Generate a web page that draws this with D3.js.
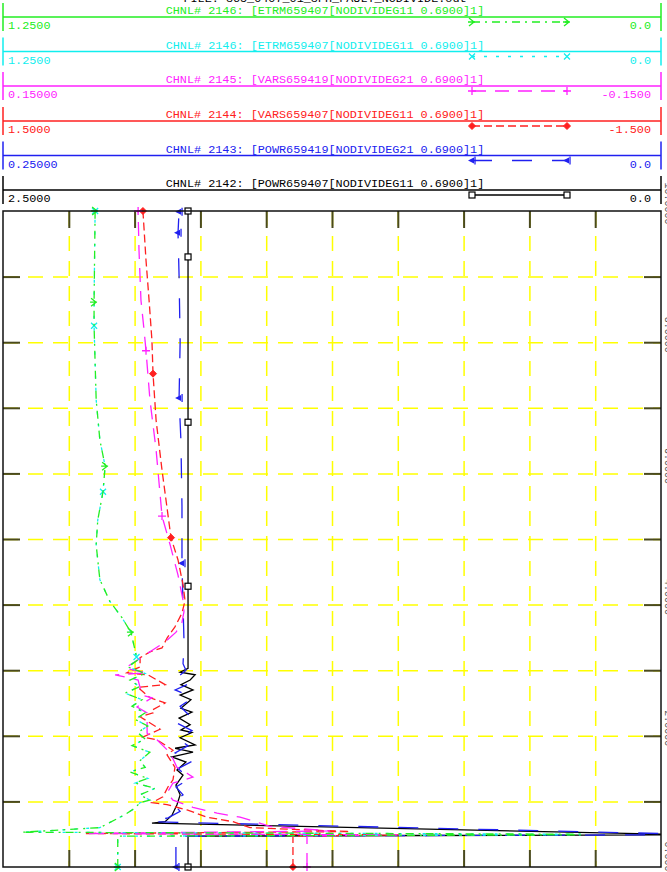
<!DOCTYPE html>
<html>
<head>
<meta charset="utf-8">
<script src="https://cdn.jsdelivr.net/npm/d3@7"></script>
<style>
body{margin:0;background:#fff;overflow:hidden}
text{font-family:"Liberation Mono","DejaVu Sans Mono",monospace}
</style>
</head>
<body>
<script>
// channel legend rows, top to bottom
var chTitles = ["CHNL# 2146: [ETRM659407[NODIVIDEG11 0.6900]1]",
                "CHNL# 2146: [ETRM659407[NODIVIDEG11 0.6900]1]",
                "CHNL# 2145: [VARS659419[NODIVIDEG21 0.6900]1]",
                "CHNL# 2144: [VARS659407[NODIVIDEG11 0.6900]1]",
                "CHNL# 2143: [POWR659419[NODIVIDEG21 0.6900]1]",
                "CHNL# 2142: [POWR659407[NODIVIDEG11 0.6900]1]"];
var chLeft  = [1.25, 1.25, 0.15, 1.5, 0.25, 2.5];
var chRight = [0.0, 0.0, -0.15, -1.5, 0.0, 0.0];
var chLeftLbl  = ["1.2500", "1.2500", "0.15000", "1.5000", "0.25000", "2.5000"];
var chRightLbl = ["0.0", "0.0", "-0.1500", "-1.500", "0.0", "0.0"];
var fileTitle = "FILE: 365_0407_01_3PH_FAULT_NODIVIDE.out";

// time axis (seconds), labels every 2 s
var timeTicks = [0, 2, 4, 6, 8, 10];

// ETRM659407 (same channel drawn twice)
var etrmT = [0, 0.47, 0.49, 0.50, 0.53, 0.60, 0.72, 0.80, 0.90, 0.98, 1.02, 1.10, 1.20, 1.28, 1.35, 1.45, 1.52, 1.62, 1.75, 1.85, 1.95, 2.05, 2.15, 2.25, 2.35, 2.45, 2.55, 2.65, 2.75, 2.85, 2.95, 3.05, 3.15, 3.30, 3.58, 3.80, 4.05, 4.38, 4.91, 5.29, 5.72, 6.11, 6.51, 7.12, 8.25, 8.61, 10];
var etrmV = [1.032, 1.032, 0.154, 0.154, 1.214, 1.066, 1.037, 1.018, 0.999, 0.990, 0.971, 0.990, 0.961, 0.999, 0.975, 1.009, 0.980, 0.990, 0.971, 1.005, 0.980, 0.994, 0.975, 0.999, 0.980, 1.005, 0.986, 1.018, 0.990, 1.009, 0.980, 1.013, 0.995, 0.999, 1.007, 1.024, 1.047, 1.066, 1.073, 1.070, 1.060, 1.056, 1.066, 1.073, 1.077, 1.077, 1.075];
var etrmMarkG = [0, 3.58, 6.11, 8.61, 10];
var etrmMarkC = [0, 3.20, 5.72, 8.25, 10];

// VARS659419
var vars19T = [0, 0.47, 0.49, 0.51, 0.55, 0.62, 0.76, 0.82, 0.91, 1.02, 1.13, 1.28, 1.33, 1.37, 1.43, 1.52, 1.74, 1.94, 2.04, 2.35, 2.44, 2.58, 2.62, 2.85, 2.93, 2.96, 3.03, 3.13, 3.28, 3.43, 3.58, 3.73, 3.89, 4.06, 4.45, 4.91, 5.35, 6.36, 7.12, 7.87, 8.19, 8.64, 9.41, 10];
var vars19V = [0.0114, 0.0114, -0.0297, 0.1126, 0.0009, 0.0282, 0.0419, 0.0524, 0.0634, 0.0725, 0.0752, 0.0725, 0.0670, 0.0634, 0.0661, 0.0707, 0.0738, 0.0798, 0.0843, 0.0843, 0.0889, 0.0821, 0.0866, 0.0884, 0.0989, 0.0843, 0.0944, 0.0898, 0.0830, 0.0761, 0.0711, 0.0684, 0.0675, 0.0679, 0.0702, 0.0738, 0.0775, 0.0802, 0.0830, 0.0848, 0.0857, 0.0871, 0.0880, 0.0884];
var vars19Mark = [0, 5.35, 7.87, 10];

// VARS659407
var vars07T = [0, 0.47, 0.49, 0.51, 0.54, 0.60, 0.69, 0.76, 0.87, 0.95, 0.98, 1.07, 1.22, 1.33, 1.52, 1.71, 1.78, 1.94, 1.98, 2.10, 2.29, 2.35, 2.39, 2.50, 2.58, 2.74, 2.78, 2.93, 2.96, 3.00, 3.05, 3.19, 3.28, 3.34, 3.49, 3.66, 3.87, 4.06, 4.30, 4.68, 5.02, 6.05, 6.81, 7.52, 8.03, 8.64, 9.25, 10];
var vars07V = [0.178, 0.178, -0.310, 1.126, -0.082, 0.374, 0.451, 0.570, 0.661, 0.752, 0.821, 0.771, 0.748, 0.725, 0.716, 0.752, 0.725, 0.798, 0.862, 0.784, 0.875, 0.816, 0.821, 0.761, 0.830, 0.885, 0.761, 0.839, 0.935, 0.912, 0.875, 0.875, 0.830, 0.775, 0.752, 0.716, 0.684, 0.670, 0.679, 0.702, 0.734, 0.775, 0.802, 0.816, 0.821, 0.834, 0.848, 0.862];
var vars07Mark = [0, 5.02, 7.52, 10];

// POWR659419
var powr19T = [0, 0.47, 0.49, 0.51, 0.69, 0.75, 0.85, 0.98, 1.10, 1.22, 1.35, 1.50, 1.62, 1.74, 1.85, 1.95, 2.08, 2.20, 2.30, 2.45, 2.58, 2.70, 2.80, 2.90, 3.00, 3.10, 3.40, 4.0, 4.63, 5.5, 6.5, 7.15, 8.0, 9.0, 9.67, 10];
var powr19V = [0.1843, 0.1843, 0.0, 0.0, 0.1934, 0.1873, 0.1827, 0.1858, 0.1816, 0.1843, 0.1789, 0.1835, 0.1778, 0.1846, 0.1797, 0.1835, 0.1782, 0.1843, 0.1789, 0.1827, 0.1778, 0.1846, 0.1789, 0.1835, 0.1805, 0.1816, 0.1812, 0.1816, 0.1820, 0.1820, 0.1824, 0.1831, 0.1827, 0.1831, 0.1835, 0.1831];
var powr19Mark = [0, 4.63, 7.15, 9.67, 9.99];

// POWR659407
var powr07T = [0, 0.47, 0.49, 0.50, 0.67, 0.69, 0.79, 0.95, 1.10, 1.25, 1.40, 1.48, 1.60, 1.68, 1.75, 1.81, 1.86, 1.97, 2.05, 2.09, 2.17, 2.27, 2.36, 2.42, 2.55, 2.62, 2.70, 2.78, 2.85, 2.93, 2.97, 3.03, 3.50, 10];
var powr07V = [1.797, 1.797, 0.0, 0.0, 1.934, 1.884, 1.858, 1.839, 1.827, 1.843, 1.816, 1.839, 1.805, 1.858, 1.778, 1.846, 1.770, 1.827, 1.782, 1.824, 1.789, 1.831, 1.782, 1.824, 1.786, 1.827, 1.778, 1.824, 1.789, 1.770, 1.827, 1.797, 1.797, 1.797];
var powr07Mark = [0, 4.28, 6.78, 9.30, 10];

var colors = ["#22ee22", "#11eeee", "#ff22ff", "#ff2020", "#2020f0", "#000000"];
var dashes = ["8,5,2,5", "3,9", "14,9", "8,4", "20,20", null];
var marks  = ["chev", "cross", "plus", "diamond", "tri", "square"];

var width = 667, height = 872;
var pL = 3, pR = 661, pT = 211, pB = 867;

var svg = d3.select("body").append("svg").attr("width", width).attr("height", height);

// title, mostly above the page
svg.append("text").attr("x", 325).attr("y", 2).attr("text-anchor", "middle")
  .attr("font-size", 11.8).attr("fill", "#000").text(fileTitle);

// legend rows
var rowY = [17, 51.5, 86, 121, 155.5, 190];
chTitles.forEach(function(t, i){
  var g = svg.append("g");
  var y = rowY[i], c = colors[i];
  g.append("line").attr("x1", pL).attr("x2", pR).attr("y1", y).attr("y2", y)
    .attr("stroke", c).attr("stroke-width", 1.5);
  g.append("line").attr("x1", pL).attr("x2", pL).attr("y1", y - 14).attr("y2", y + 14)
    .attr("stroke", c).attr("stroke-width", 1.5);
  g.append("line").attr("x1", pR).attr("x2", pR).attr("y1", y - 14).attr("y2", y + 14)
    .attr("stroke", c).attr("stroke-width", 1.5);
  g.append("text").attr("x", 325).attr("y", y - 3).attr("text-anchor", "middle")
    .attr("font-size", 11.8).attr("fill", c).text(t);
  g.append("text").attr("x", 8).attr("y", y + 12).attr("font-size", 11.8).attr("fill", c).text(chLeftLbl[i]);
  g.append("text").attr("x", 651).attr("y", y + 12).attr("text-anchor", "end")
    .attr("font-size", 11.8).attr("fill", c).text(chRightLbl[i]);
  g.append("line").attr("x1", 472).attr("x2", 567).attr("y1", y + 5).attr("y2", y + 5)
    .attr("stroke", c).attr("stroke-width", 1.3).attr("stroke-dasharray", dashes[i]);
  drawMark(g, marks[i], 472, y + 5, c);
  drawMark(g, marks[i], 567, y + 5, c);
});

function drawMark(g, type, x, y, c){
  if (type == "square") {
    g.append("rect").attr("x", x - 3).attr("y", y - 3).attr("width", 6).attr("height", 6)
      .attr("fill", "#fff").attr("stroke", c).attr("stroke-width", 1.2);
  } else if (type == "tri") {
    g.append("path").attr("d", "M" + (x - 4) + "," + y + "L" + (x + 2) + "," + (y - 3) + "L" + (x + 2) + "," + (y + 3) + "Z").attr("fill", c);
    g.append("path").attr("d", "M" + (x + 3) + "," + (y - 4) + "V" + (y + 4)).attr("stroke", c).attr("stroke-width", 1.3);
  } else if (type == "diamond") {
    g.append("path").attr("d", "M" + x + "," + (y - 3.5) + "L" + (x + 3.5) + "," + y + "L" + x + "," + (y + 3.5) + "L" + (x - 3.5) + "," + y + "Z")
      .attr("fill", c).attr("stroke", c);
  } else if (type == "plus") {
    g.append("path").attr("d", "M" + (x - 4) + "," + y + "H" + (x + 4) + "M" + x + "," + (y - 4) + "V" + (y + 4))
      .attr("stroke", c).attr("stroke-width", 1.3);
  } else if (type == "cross") {
    g.append("path").attr("d", "M" + (x - 3) + "," + (y - 3) + "L" + (x + 3) + "," + (y + 3) + "M" + (x - 3) + "," + (y + 3) + "L" + (x + 3) + "," + (y - 3))
      .attr("stroke", c).attr("stroke-width", 1.3);
  } else {
    g.append("path").attr("d", "M" + (x - 3) + "," + (y - 4) + "L" + (x + 2) + "," + y + "L" + (x - 3) + "," + (y + 4) + "M" + (x - 4) + "," + y + "H" + (x + 3))
      .attr("stroke", c).attr("stroke-width", 1.3).attr("fill", "none");
  }
}

// scales
var tScale = d3.scaleLinear().domain([0, 10]).range([pB, pT]);
var gridScale = d3.scaleLinear().domain([0, 10]).range([pL, pR]);

// yellow dashed grid
var gx = svg.append("g").attr("transform", "translate(0," + pT + ")")
  .call(d3.axisTop(gridScale).tickValues(d3.range(1, 10)).tickSize(-(pB - pT)).tickFormat(""));
var gy = svg.append("g").attr("transform", "translate(" + pL + ",0)")
  .call(d3.axisLeft(tScale).tickValues(d3.range(1, 10)).tickSize(-(pR - pL)).tickFormat(""));
[gx, gy].forEach(function(g){
  g.select(".domain").remove();
  g.selectAll("line").attr("stroke", "#ffff00").attr("stroke-width", 1.5).attr("stroke-dasharray", "15,10");
});

// short dark ticks on the frame
var tickCol = "#4a4a1e";
var tk = [
  svg.append("g").attr("transform", "translate(0," + pT + ")").call(d3.axisTop(gridScale).tickValues(d3.range(1, 10)).tickSize(-17).tickFormat("")),
  svg.append("g").attr("transform", "translate(0," + pB + ")").call(d3.axisBottom(gridScale).tickValues(d3.range(1, 10)).tickSize(-17).tickFormat("")),
  svg.append("g").attr("transform", "translate(" + pL + ",0)").call(d3.axisLeft(tScale).tickValues(d3.range(1, 10)).tickSize(-17).tickFormat("")),
  svg.append("g").attr("transform", "translate(" + pR + ",0)").call(d3.axisRight(tScale).tickValues(d3.range(1, 10)).tickSize(-17).tickFormat(""))
];
tk.forEach(function(g){
  g.select(".domain").remove();
  g.selectAll("line").attr("stroke", tickCol).attr("stroke-width", 2);
});

// time labels on the right edge, rotated and mostly off page
var tl = svg.append("g").attr("transform", "translate(" + pR + ",0)")
  .call(d3.axisRight(tScale).tickValues(timeTicks).tickSize(0).tickFormat(d3.format(".4f")));
tl.select(".domain").remove();
tl.selectAll("text").attr("x", -8).attr("y", -4).attr("dy", null)
  .attr("transform", "rotate(90)").attr("text-anchor", "middle")
  .attr("font-size", 10).attr("fill", "#555").attr("font-family", "Liberation Mono");

// series
svg.append("clipPath").attr("id", "plotclip").append("rect")
  .attr("x", pL).attr("y", pT).attr("width", pR - pL).attr("height", pB - pT);

var series = [
  {ch: 5, t: powr07T, v: powr07V, m: powr07Mark},
  {ch: 4, t: powr19T, v: powr19V, m: powr19Mark},
  {ch: 3, t: vars07T, v: vars07V, m: vars07Mark},
  {ch: 2, t: vars19T, v: vars19V, m: vars19Mark},
  {ch: 1, t: etrmT, v: etrmV, m: etrmMarkC},
  {ch: 0, t: etrmT, v: etrmV, m: etrmMarkG}
];

series.forEach(function(s){
  var i = s.ch;
  var xs = d3.scaleLinear().domain([chLeft[i], chRight[i]]).range([pL, pR]);
  var pts = s.t.map(function(t, k){ return {t: t, v: s.v[k]}; });
  var line = d3.line().x(function(d){ return xs(d.v); }).y(function(d){ return tScale(d.t); });
  svg.append("path").datum(pts).attr("d", line).attr("fill", "none")
    .attr("stroke", colors[i]).attr("stroke-width", 1.3)
    .attr("stroke-dasharray", dashes[i]).attr("clip-path", "url(#plotclip)");
  var bis = d3.bisector(function(d){ return d; }).left;
  var g = svg.append("g");
  s.m.forEach(function(mt){
    var k = Math.max(1, Math.min(s.t.length - 1, bis(s.t, mt)));
    var f = (mt - s.t[k - 1]) / (s.t[k] - s.t[k - 1]);
    var val = s.v[k - 1] + f * (s.v[k] - s.v[k - 1]);
    drawMark(g, marks[i], xs(val), tScale(mt), colors[i]);
  });
});

// frame
svg.append("rect").attr("x", pL).attr("y", pT).attr("width", pR - pL).attr("height", pB - pT)
  .attr("fill", "none").attr("stroke", "#111").attr("stroke-width", 1.5);
</script>
</body>
</html>
